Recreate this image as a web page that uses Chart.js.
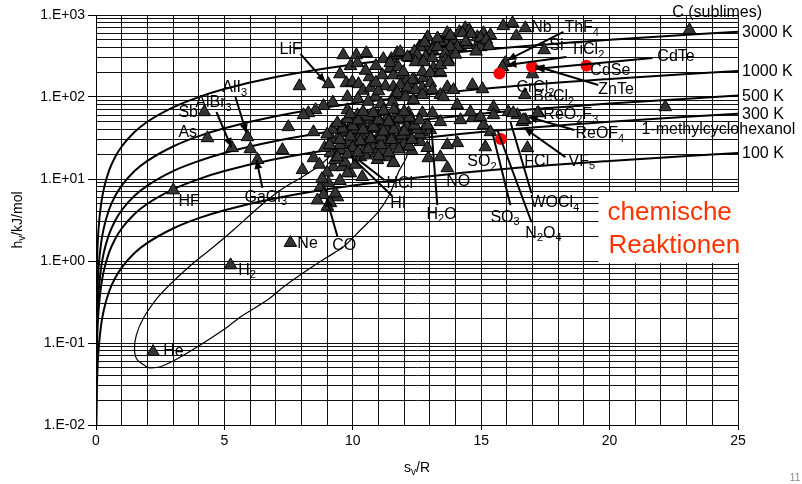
<!DOCTYPE html>
<html><head><meta charset="utf-8">
<script src="https://cdn.jsdelivr.net/npm/chart.js@4"></script>
<style>html,body{margin:0;padding:0;background:#fff;}#wrap{width:802px;height:484px;position:relative;}</style>
</head><body><div id="wrap"><canvas id="c" width="802" height="484"></canvas></div>
<script>
// ---------- DATA ----------
const decadeValues = [0.01, 0.1, 1, 10, 100, 1000];
const yTickLabels = ['1.E-02', '1.E-01', '1.E+00', '1.E+01', '1.E+02', '1.E+03'];
const xTickLabels = ['0', '5', '10', '15', '20', '25'];
const isothermNames = ['3000 K', '1000 K', '500 K', '300 K', '100 K'];

const iso3000 = [[0.0004,0.01],[0.002,0.0499],[0.005,0.125],[0.01,0.249],[0.02,0.499],[0.05,1.25],[0.1,2.49],[0.2,4.99],[0.3,7.48],[0.5,12.5],[0.75,18.7],[1,24.9],[1.5,37.4],[2,49.9],[3,74.8],[4,99.8],[5,125],[7,175],[10,249],[15,374],[20,499],[25,624]];
const iso1000 = [[0.0012,0.01],[0.005,0.0416],[0.01,0.0831],[0.02,0.166],[0.05,0.416],[0.1,0.831],[0.2,1.66],[0.3,2.49],[0.5,4.16],[0.75,6.24],[1,8.31],[1.5,12.5],[2,16.6],[3,24.9],[4,33.3],[5,41.6],[7,58.2],[10,83.1],[15,125],[20,166],[25,208]];
const iso500 = [[0.0024,0.01],[0.01,0.0416],[0.02,0.0831],[0.05,0.208],[0.1,0.416],[0.2,0.831],[0.3,1.25],[0.5,2.08],[0.75,3.12],[1,4.16],[1.5,6.24],[2,8.31],[3,12.5],[4,16.6],[5,20.8],[7,29.1],[10,41.6],[15,62.4],[20,83.1],[25,104]];
const iso300 = [[0.004,0.01],[0.01,0.0249],[0.02,0.0499],[0.05,0.125],[0.1,0.249],[0.2,0.499],[0.3,0.748],[0.5,1.25],[0.75,1.87],[1,2.49],[1.5,3.74],[2,4.99],[3,7.48],[4,9.98],[5,12.5],[7,17.5],[10,24.9],[15,37.4],[20,49.9],[25,62.4]];
const iso100 = [[0.012,0.01],[0.02,0.0166],[0.05,0.0416],[0.1,0.0831],[0.2,0.166],[0.3,0.249],[0.5,0.416],[0.75,0.624],[1,0.831],[1.5,1.25],[2,1.66],[3,2.49],[4,3.33],[5,4.16],[7,5.82],[10,8.31],[15,12.5],[20,16.6],[25,20.8]];

const envelope = [[2.00,0.0509],[1.61,0.0621],[1.50,0.0822],[1.57,0.125],[1.85,0.202],[2.39,0.354],[2.90,0.525],[3.79,0.946],[4.57,1.48],[5.35,2.39],[6.13,3.96],[6.67,5.55],[7.30,7.77],[7.96,10.3],[8.74,14.8],[9.32,22.6],[9.71,36.4],[10.10,55.4],[10.69,71.5],[11.46,73.4],[11.97,55.4],[12.20,31.6],[12.09,18.5],[11.78,12.2],[11.46,6.74],[10.96,3.85],[10.30,2.39],[9.63,1.48],[9.01,1.12],[8.23,0.776],[7.30,0.482],[6.67,0.334],[5.62,0.207],[5.12,0.157],[4.18,0.100],[3.29,0.0675],[2.59,0.0525],[2.12,0.0496],[2.00,0.0509]];

const substances = [
[3.01,7.3],[4.22,65.6],[4.34,31.6],[5.30,23.9],[5.90,32.5],[6.01,23.2],[6.29,17.1],[5.24,0.89],[7.57,1.67],[2.22,0.078],
[7.92,136],[9.05,144],[9.63,325],[10.14,325],[10.53,344],[9.91,239],[10.18,260],[10.65,175],[9.75,148],[9.98,152],[10.22,144],[9.79,100],[9.22,86],[8.86,78],[8.55,69.4],[8.27,63.8],[8.08,60.3],[10.88,100],
[11.19,291],[11.50,291],[11.73,325],[11.46,226],[11.15,185],[11.58,185],[11.93,185],[11.27,136],[11.58,132],[12.09,161],[12.40,161],[12.75,171],[11.58,100],[11.93,106],[12.32,122],[12.71,129],[13.02,148],[13.41,196],[13.14,226],
[12.59,407],[12.91,539],[13.14,407],[13.49,456],[13.68,603],[13.92,496],[14.15,621],[14.38,693],[14.54,656],[14.85,539],[15.09,603],[15.36,570],[13.92,374],[14.19,407],[14.50,431],[14.85,431],[15.05,469],[13.72,282],[14.27,603],[13.61,456],[13.41,469],[12.94,407],[12.63,407],[13.10,374],[13.29,407],[14.97,525],[14.97,407],[14.07,407],[13.80,407],[15.86,735],[16.22,798],[16.37,555],
[12.8,460],[13.3,520],[13.8,560],[14.6,590],[15.2,500],[14.4,470],[13.6,340],[14.0,330],[14.8,360],[15.3,420],[12.4,360],[12.2,300],
[13.68,132],[13.41,106],[13.92,122],[14.66,140],[15.05,125],
[11.73,344],[11.85,354],[12.13,307],[12.52,325],[12.83,307],[13.10,299],[12.44,267],[12.75,267],[11.46,260],[11.77,232],[11.97,202],[12.32,161],[12.71,202],[13.02,196],[13.41,202],[13.61,282],[13.41,246],[13.72,267],
[11.85,140],[12.13,129],[12.44,122],[12.71,106],[13.10,122],[13.53,100],[11.73,112],[12.05,100],[12.36,92],[11.54,87],
[10.4,120],[10.7,130],[11.0,118],[10.2,95],[10.6,88],[11.1,82],[10.9,150],[10.5,210],[10.9,240],[9.5,190],
[15.94,260],[15.83,232],
[17.45,374],[16.70,106],[17.00,190],[16.72,693],[17.23,63.8],[16.72,52.4],[16.80,23.9],[16.60,49.6],[22.17,75.5],[23.11,656],
[15.48,75.5],[15.48,60.3],[16.06,65.6],[16.41,60.3],[16.64,52.4],
[15.09,45.6],[15.36,37.4],[15.16,24.5],[16.25,63.8],[17.19,63.8],
[14.07,27.5],[13.68,26],[13.41,18.5],[12.94,18],[13.68,13.6],[12.63,28.3],[11.97,24.5],[11.58,16.1],
[12.17,63.8],[12.71,63.8],[13.10,63.8],[13.41,49.6],[14.19,52.4],[14.66,55.4],[14.97,57],[14.07,80],[14.58,65.6],
[12.36,48.2],[12.71,37.4],[13.02,39.6],[11.93,36.4],[12.24,41.9],
[7.49,43.1],[8.47,37.4],[7.26,22.6],[8.04,12.9],[8.47,18],
[9.79,69.4],[10.18,60.3],[10.57,52.4],[10.96,57],[11.35,57],[11.73,63.8],
[9.44,32.5],[9.91,36.4],[10.30,39.6],[10.69,32.5],[11.07,36.4],[11.46,36.4],
[9.13,20.7],[9.52,22.6],[9.91,20.7],[10.30,18.5],[10.96,17.1],[11.35,18.5],[11.58,15.7],
[9.24,14],[9.59,14],[9.91,11.8],[10.37,10.6],[9.79,11.8],
[8.74,8],[9.05,8.9],[8.86,6.4],[9.40,6],[8.62,5.5],[9.13,5.1],[9.01,4.6],[9.32,6.7],
[9.6,45],[10.0,50],[10.4,45],[10.8,48],[11.2,44],[11.6,47],[12.0,52],[9.8,28],[10.2,30],[10.6,27],[11.0,30],[11.4,28],[11.8,31],[12.2,33],[12.6,35],[10.0,24],[10.4,22],[10.8,24],[11.2,22],[11.6,25],[12.0,27],[9.7,38],[10.1,40],[10.5,36],[10.9,41],[11.3,40],[11.7,42],[12.1,44],[12.5,40],[12.9,45],[9.5,26],[10.5,19.5],[10.9,20.5],[11.1,26],[10.3,34],[11.5,33],[12.3,22],[12.9,24],[9.3,17],[9.7,16],[10.1,15],[8.9,24],[9.2,30],[8.7,15],[9.0,12],[8.8,10],[9.5,9.5],
[9.4,18.5],[9.8,20],[10.2,21],[10.6,23],[11.0,19],[11.4,21],[11.8,23],[12.2,25],
[9.5,30],[9.9,33],[10.3,29],[10.7,31],[11.1,33],[11.5,30],[11.9,34],[12.3,30],
[9.6,41],[10.0,44],[10.4,40],[10.8,43],[11.2,38],[11.6,40],[12.0,38],[12.4,45],
[9.8,54],[10.2,52],[10.6,58],[11.0,52],[11.4,50],[11.8,55],[12.2,56],[12.6,52],
[9.9,62],[10.4,66],[10.8,64],[11.2,68],[11.6,70],[12.0,66],[9.2,40],[9.0,35],[9.1,26],[9.4,48]
];

const reactions = [[15.71,194],[16.98,234],[19.1,241],[15.77,30.7]];

// annotation labels: text (with _ for subscript), anchor in data units, optional leader line
const annotations = [
 {t:'C (sublimes)', x:22.44, y:1058},
 {t:'LiF', x:7.15, y:374, line:[7.96,335,8.93,152], arrow:true},
 {t:'Nb', x:16.95, y:693},
 {t:'ThF_4', x:18.24, y:693, line:[18.20,621,16.02,282], arrow:true},
 {t:'Si', x:17.65, y:418},
 {t:'TiCl_2', x:18.47, y:374, line:[18.32,307,16.02,246], arrow:true},
 {t:'CdTe', x:21.86, y:307, line:[21.67,299,17.11,219], arrow:true},
 {t:'CdSe', x:19.25, y:207},
 {t:'ZnTe', x:19.56, y:122, line:[19.56,140,17.11,239], arrow:true},
 {t:'CrCl_2', x:16.37, y:129},
 {t:'BeCl_2', x:17.03, y:100},
 {t:'ReO_2F_3', x:17.42, y:60.3},
 {t:'ReOF_4', x:18.67, y:35.3, line:[18.63,39.6,16.84,57], arrow:true},
 {t:'1-methylcyclohexanol', x:21.24, y:39.6},
 {t:'VF_5', x:18.40, y:16.5, line:[18.28,18.5,16.68,41.9], arrow:true},
 {t:'FCl', x:16.68, y:16.1},
 {t:'WOCl_4', x:16.92, y:5.1, line:[16.96,6.7,16.14,49.6]},
 {t:'N_2O_4', x:16.72, y:2.17, line:[16.96,2.97,15.63,39.6]},
 {t:'SO_3', x:15.36, y:3.4, line:[16.14,4.8,15.44,36.4]},
 {t:'SO_2', x:14.46, y:16.1},
 {t:'NO', x:13.64, y:9.2},
 {t:'H_2O', x:12.87, y:3.7, line:[13.29,4.8,13.06,41.9]},
 {t:'HCl', x:11.31, y:8.7, line:[11.23,9.7,10.22,17.1]},
 {t:'HI', x:11.46, y:4.95, line:[11.54,6.2,9.91,19]},
 {t:'CO', x:9.20, y:1.54, line:[9.40,2.0,8.97,5.9], arrow:true},
 {t:'Ne', x:7.84, y:1.65},
 {t:'H_2', x:5.54, y:0.77},
 {t:'He', x:2.62, y:0.0775},
 {t:'HF', x:3.21, y:5.3},
 {t:'GaCl_3', x:5.78, y:6.0, line:[6.48,7.8,6.25,17.1], arrow:true},
 {t:'AlI_3', x:4.92, y:129, line:[5.43,100,5.86,36.4], arrow:true},
 {t:'AlBr_3', x:3.87, y:84.5, line:[4.69,65.6,5.27,24.5], arrow:true},
 {t:'Sb', x:3.21, y:63.8},
 {t:'As', x:3.21, y:36.4}
];
const boxText = ['chemische', 'Reaktionen'];
const chemBox = {x0:19.57, x1:25, yTop:6.93, yBottom:0.946};

// ---------- DRAWING ----------
const FONT = '"Liberation Sans", Arial, sans-serif';
Chart.defaults.font.family = FONT;
const toXY = arr => arr.map(p => ({x:p[0], y:p[1]}));

function parseRich(text){
  const segs=[]; let buf='';
  for(let i=0;i<text.length;i++){
    if(text[i]==='_'){ if(buf){segs.push({t:buf,sub:false});buf='';} segs.push({t:text[i+1],sub:true}); i++; }
    else buf+=text[i];
  }
  if(buf) segs.push({t:buf,sub:false});
  return segs;
}
function drawRich(ctx, text, x, y, size, align){
  const segs=parseRich(text); const sub=Math.round(size*0.7); let w=0;
  for(const s of segs){ ctx.font=(s.sub?sub:size)+'px '+FONT; s.w=ctx.measureText(s.t).width; w+=s.w; }
  let cx = align==='center' ? x-w/2 : (align==='right' ? x-w : x);
  ctx.textAlign='left'; ctx.textBaseline='middle';
  for(const s of segs){ ctx.font=(s.sub?sub:size)+'px '+FONT; ctx.fillText(s.t, cx, s.sub ? y+size*0.3 : y); cx+=s.w; }
}
function drawArrow(ctx,x1,y1,x2,y2,head){
  ctx.beginPath(); ctx.moveTo(x1,y1); ctx.lineTo(x2,y2); ctx.stroke();
  if(head){
    const a=Math.atan2(y2-y1,x2-x1), L=9, W=4;
    ctx.beginPath(); ctx.moveTo(x2,y2);
    ctx.lineTo(x2-L*Math.cos(a)+W*Math.sin(a), y2-L*Math.sin(a)-W*Math.cos(a));
    ctx.lineTo(x2-L*Math.cos(a)-W*Math.sin(a), y2-L*Math.sin(a)+W*Math.cos(a));
    ctx.closePath(); ctx.fill();
  }
}

const overlay = {
  id:'overlay',
  afterDatasetsDraw(chart){
    const ctx=chart.ctx, xs=chart.scales.x, ys=chart.scales.y;
    const X=v=>xs.getPixelForValue(v), Y=v=>ys.getPixelForValue(v);
    ctx.save();
    const bx=X(chemBox.x0), by=Y(chemBox.yTop), bx2=X(chemBox.x1)+2, by2=Y(chemBox.yBottom);
    ctx.fillStyle='#fff'; ctx.fillRect(bx,by,bx2-bx,by2-by);
    ctx.fillStyle='#ff3300';
    ctx.font='26px '+FONT; ctx.textAlign='left'; ctx.textBaseline='middle';
    ctx.fillText(boxText[0], bx+9, by+21);
    ctx.fillText(boxText[1], bx+10, by+54);
    ctx.strokeStyle='#000'; ctx.fillStyle='#000'; ctx.lineWidth=2;
    for(const a of annotations){
      if(a.line) drawArrow(ctx, X(a.line[0]), Y(a.line[1]), X(a.line[2]), Y(a.line[3]), !!a.arrow);
    }
    for(const a of annotations){ drawRich(ctx, a.t, X(a.x), Y(a.y), 16, 'left'); }
    const isoSets=[iso3000,iso1000,iso500,iso300,iso100];
    isoSets.forEach((s,i)=>{ const last=s[s.length-1]; drawRich(ctx, isothermNames[i], X(last[0])+4, Y(last[1])+1, 16, 'left'); });
    ctx.fillStyle='#000';
    drawRich(ctx, 's_v/R', (chart.chartArea.left+chart.chartArea.right)/2, 468, 14, 'center');
    ctx.save(); ctx.translate(18, 220); ctx.rotate(-Math.PI/2); drawRich(ctx, 'h_v/kJ/mol', 0, 0, 14, 'center'); ctx.restore();
    ctx.fillStyle='#888'; ctx.font='10px '+FONT; ctx.textAlign='center'; ctx.fillText('11', 795, 478);
    ctx.restore();
  }
};

const isDecade = v => decadeValues.some(d => Math.abs(d-v)/d < 1e-6);
const lineDs = (arr, w) => ({type:'line', data:toXY(arr), showLine:true, borderColor:'#000', borderWidth:w, pointRadius:0, fill:false, cubicInterpolationMode:'monotone'});

new Chart(document.getElementById('c'), {
  type:'scatter',
  data:{ datasets:[
    {data:toXY(reactions), pointStyle:'circle', pointRadius:6, backgroundColor:'#ff0000', borderColor:'#ff0000', borderWidth:0},
    {data:toXY(substances), pointStyle:'triangle', pointRadius:7.3, backgroundColor:'#333333', borderColor:'#000', borderWidth:1},
    Object.assign(lineDs(envelope,1.2),{cubicInterpolationMode:'default', tension:0.25}),
    lineDs(iso3000,2), lineDs(iso1000,2), lineDs(iso500,2), lineDs(iso300,2), lineDs(iso100,2)
  ]},
  options:{
    responsive:false, animation:false, devicePixelRatio:1,
    layout:{padding:{top:15, right:64, left:0, bottom:0}},
    plugins:{legend:{display:false}, tooltip:{enabled:false}},
    scales:{
      x:{ type:'linear', min:0, max:25,
        afterFit: s => { s.height = 59; },
        ticks:{ stepSize:1, autoSkip:false, maxRotation:0, color:'#000', font:{size:14}, padding:3,
          callback: v => { const r=Math.round(v); return r%5===0 ? xTickLabels[r/5] : ''; } },
        grid:{ color:'#111', lineWidth:1, tickLength:5, tickColor: c => (c.tick && Math.round(c.tick.value)%5===0) ? '#000' : 'rgba(0,0,0,0)' },
        border:{ color:'#000', width:1 }
      },
      y:{ type:'logarithmic', min:0.01, max:1000,
        afterFit: s => { s.width = 96; },
        afterBuildTicks: s => { const t=[]; for(let e=-2;e<=3;e++){ for(let m=1;m<=9;m++){ const v=+(m*Math.pow(10,e)).toPrecision(3); if(v>1000) break; t.push({value:v}); } } s.ticks=t; },
        ticks:{ autoSkip:false, color:'#000', font:{size:14}, padding:3,
          callback: v => { const i=decadeValues.findIndex(d=>Math.abs(d-v)/d<1e-6); return i>=0 ? yTickLabels[i] : ''; } },
        grid:{ color:'#111', lineWidth:1, tickLength:8, tickColor: c => (c.tick && isDecade(c.tick.value)) ? '#000' : 'rgba(0,0,0,0)' },
        border:{ color:'#000', width:1 }
      }
    }
  },
  plugins:[overlay]
});
</script></body></html>
